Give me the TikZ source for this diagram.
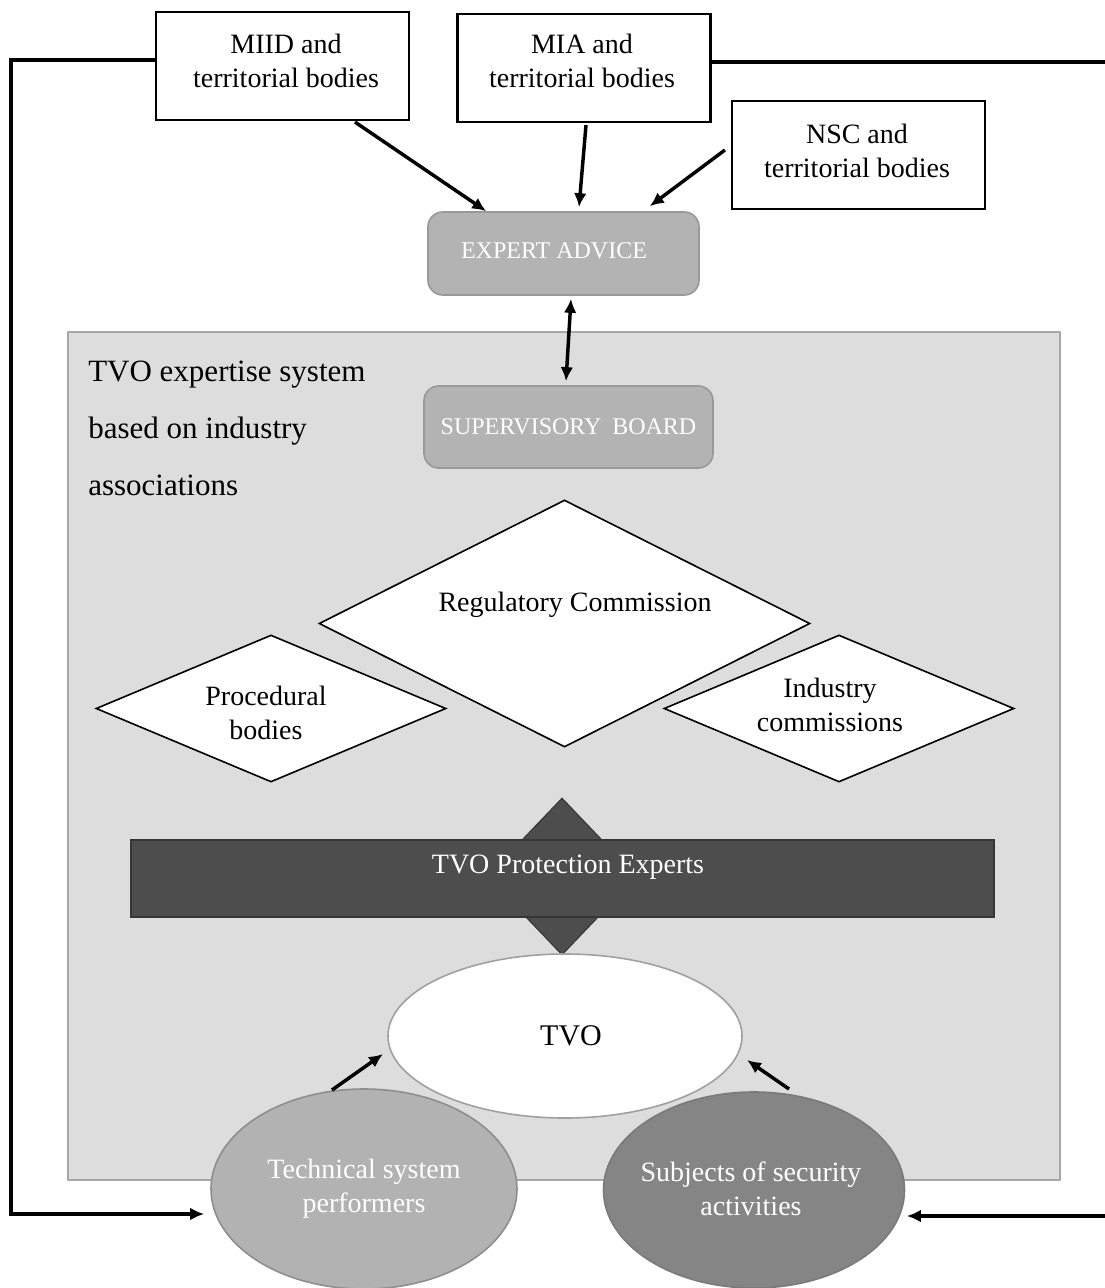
\documentclass[tikz,border=0pt]{standalone}
\usepackage{fontspec}
\setmainfont{Liberation Serif}
\usetikzlibrary{arrows.meta,shapes.geometric,calc}
\definecolor{panelfill}{HTML}{DDDDDD}
\definecolor{panelline}{HTML}{A8A8A8}
\definecolor{boxgray}{HTML}{B3B3B3}
\definecolor{boxline}{HTML}{999999}
\definecolor{darkbar}{HTML}{4D4D4D}
\definecolor{darkline}{HTML}{363636}
\definecolor{techfill}{HTML}{B2B2B2}
\definecolor{techline}{HTML}{8E8E8E}
\definecolor{subjfill}{HTML}{858585}
\definecolor{subjline}{HTML}{7A7A7A}
\definecolor{ellline}{HTML}{A0A0A0}
\tikzset{
  orgbox/.style={draw=black, line width=1.6pt, fill=white, minimum width=189.75pt,
    minimum height=81pt, inner sep=0pt},
  graybox/.style={draw=boxline, fill=boxgray, line width=1.2pt, rounded corners=11pt,
    text=white, inner sep=0pt, font=\fontsize{18}{22}\selectfont},
  dia/.style={diamond, draw=black, fill=white, line width=1.2pt, inner sep=0pt},
  lbl/.style={align=center, inner sep=0pt, font=\fontsize{21}{25.5}\selectfont},
  arr/.style={line width=2.6pt, -{Latex[length=10.5pt,width=9.5pt]}},
  biarr/.style={line width=2.6pt, {Latex[length=10.5pt,width=9.5pt]}-{Latex[length=10.5pt,width=9.5pt]}},
}
\begin{document}
\begin{tikzpicture}[x=0.75pt,y=-0.75pt]
\useasboundingbox (0,0) rectangle (1105,1288);

% panel
\node[draw=panelline, fill=panelfill, line width=1.2pt, minimum width=744pt, minimum height=636pt, inner sep=0pt] (panel) at (564,756) {};

% top boxes
\node[orgbox] (miid) at (282.5,66) {};
\node[lbl] (miidtext) at (286,61) {MIID and\\territorial bodies};
\node[orgbox] (mia) at (584,68) {};
\node[lbl] (miatext) at (582,61) {MIA and\\territorial bodies};
\node[orgbox] (nsc) at (858.5,155) {};
\node[lbl] (nsctext) at (857,151) {NSC and\\territorial bodies};

\node[graybox, minimum width=203.25pt, minimum height=62.25pt] (expert) at (563.5,253.5) {};
\node[inner sep=0pt, text=white, font=\fontsize{18}{22}\selectfont] (experttext) at (554,251) {EXPERT ADVICE};
\node[graybox, minimum width=216.75pt, minimum height=61.5pt] (board) at (568.5,427) {SUPERVISORY\hspace{0.45em}BOARD};

% label
\node[anchor=north west, align=left, inner sep=0pt, font=\fontsize{23.25}{42.75}\selectfont] (syslabel) at (88,361) {TVO expertise system\\based on industry\\associations};

% diamonds
\node[dia, minimum width=368.25pt, minimum height=185.25pt] (reg) at (564.5,623.5) {};
\node[lbl] (regtext) at (575,605) {Regulatory Commission};
\node[dia, minimum width=262.5pt, minimum height=110.25pt] (proc) at (271,708.5) {};
\node[lbl] (proctext) at (266,713) {Procedural\\bodies};
\node[dia, minimum width=262.5pt, minimum height=110.25pt] (ind) at (839,708.5) {};
\node[lbl] (indtext) at (830,705) {Industry\\commissions};

% experts bar with double arrow shape
\node[diamond, fill=darkbar, draw=darkline, line width=0.8pt, inner sep=0pt, minimum width=112.5pt, minimum height=117.75pt] (exdia) at (562,876.5) {};
\node[fill=darkbar, draw=darkline, line width=1pt, inner sep=0pt, minimum width=647.25pt, minimum height=57.75pt] (bar) at (562.5,878.5) {};
\node[lbl, text=white] (bartext) at (568,867) {TVO Protection Experts};

% TVO ellipse
\node[ellipse, draw=ellline, fill=white, line width=1.2pt, minimum width=265.5pt, minimum height=123pt, inner sep=0pt] (tvo) at (565,1036) {};
\node[lbl, font=\fontsize{22.5}{27}\selectfont] (tvotext) at (571,1036) {TVO};

% bottom ellipses
\node[ellipse, draw=techline, fill=techfill, line width=1.2pt, minimum width=229.5pt, minimum height=150pt, inner sep=0pt] (tech) at (364,1189) {};
\node[lbl, text=white] (techtext) at (364,1189) {Technical system\\performers};
\node[ellipse, draw=subjline, fill=subjfill, line width=1.2pt, minimum width=225.75pt, minimum height=147pt, inner sep=0pt] (subj) at (754,1190) {};
\node[lbl, text=white] (subjtext) at (751,1189) {Subjects of security\\activities};

% arrows to expert advice
\draw[arr] ($(miid.south)+(72.5,1)$) -- ($(expert.north west)+(59,0)$);
\draw[arr] ($(mia.south)+(2,2)$) -- ($(expert.north)+(15.5,-4)$);
\draw[arr] ($(nsc.west)+(-6,-5)$) -- ($(expert.north east)+(-50,-5)$);
\draw[biarr] ($(expert.south)+(7.5,3)$) -- ($(board.north)+(-2.5,-4)$);

% loops
\draw[arr] ($(miid.west)+(0,-6)$) -- ++(-144,0) |- ($(tech.west)+(-6,25)$);
\draw[arr] ($(mia.east)+(0,-6)$) -- ++(410,0) |- ($(subj.east)+(1.5,26)$);

% small arrows to TVO
\coordinate (t1s) at (332,1090);
\coordinate (t1e) at (383,1054);
\coordinate (s1s) at (789,1089);
\coordinate (s1e) at (747,1060);
\draw[arr] (t1s) -- (t1e);
\draw[arr] (s1s) -- (s1e);
\end{tikzpicture}
\end{document}
